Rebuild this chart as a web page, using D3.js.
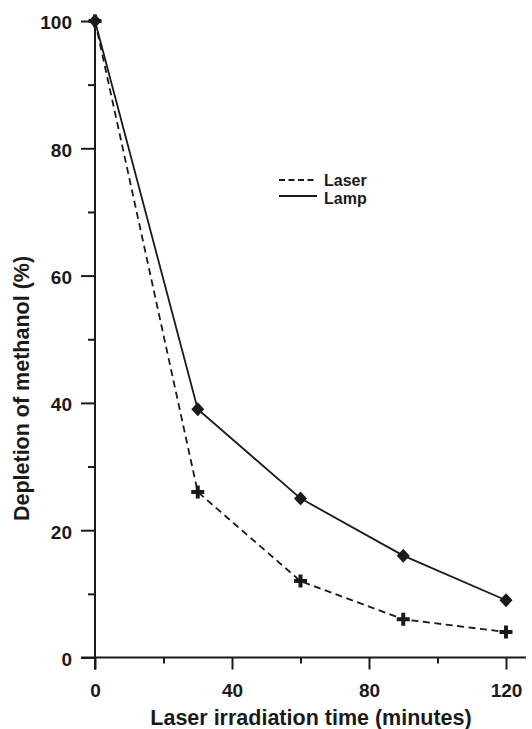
<!DOCTYPE html>
<html><head><meta charset="utf-8">
<script src="https://cdn.jsdelivr.net/npm/d3@7"></script>
<style>
html,body{margin:0;padding:0;background:#fff;}
svg{display:block;}
text{font-family:"Liberation Sans",Arial,Helvetica,sans-serif;font-weight:bold;fill:#1a1a1a;}
</style></head>
<body>
<script>
const times = [0, 30, 60, 90, 120];
const laser = [100, 26, 12, 6, 4];
const lamp = [100, 39, 25, 16, 9];
const xMajor = [0, 40, 80, 120];
const xMinor = [20, 60, 100];
const yMajor = [0, 20, 40, 60, 80, 100];
const yMinor = [10, 30, 50, 70, 90];
const seriesNames = ["Laser", "Lamp"];
const xTitle = "Laser irradiation time (minutes)";
const yTitle = "Depletion of methanol (%)";

const W = 532, H = 729;
const svg = d3.select("body").append("svg").attr("width", W).attr("height", H);
const x = d3.scaleLinear().domain([0, 120]).range([95, 506]);
const y = d3.scaleLinear().domain([0, 100]).range([657.5, 21]);
const ink = "#1a1a1a";

// Axes
const gx = svg.append("g").attr("transform", `translate(0,${y(0)})`);
gx.call(d3.axisBottom(x).tickValues(xMajor).tickSize(12).tickSizeOuter(0).tickFormat(d3.format("d")));
gx.append("g").call(d3.axisBottom(x).tickValues(xMinor).tickSize(6).tickSizeOuter(0).tickFormat(""));
gx.selectAll(".domain").remove();
gx.selectAll("text").attr("y", 39.5).attr("dy", null).style("font-size", "19px").attr("fill", ink);

const gy = svg.append("g").attr("transform", `translate(${x(0)},0)`);
gy.call(d3.axisLeft(y).tickValues(yMajor).tickSize(14).tickSizeOuter(0).tickFormat(d3.format("d")));
gy.append("g").call(d3.axisLeft(y).tickValues(yMinor).tickSize(7).tickSizeOuter(0).tickFormat(""));
gy.selectAll(".domain").remove();
gy.selectAll("text").attr("x", -23).attr("dy", "0.42em").style("font-size", "19px").attr("fill", ink);

svg.selectAll(".tick line").attr("stroke", ink).attr("stroke-width", 2);

// Axis lines (extended like reference)
svg.append("line").attr("x1", x(0) - 14).attr("x2", 526).attr("y1", y(0)).attr("y2", y(0))
  .attr("stroke", ink).attr("stroke-width", 2);
svg.append("line").attr("x1", x(0)).attr("x2", x(0)).attr("y1", y(100)).attr("y2", y(0) + 12)
  .attr("stroke", ink).attr("stroke-width", 2);

// Lines
const lineGen = d3.line().x((d, i) => x(times[i])).y(d => y(d));
svg.append("path").datum(laser).attr("d", lineGen).attr("fill", "none")
  .attr("stroke", ink).attr("stroke-width", 1.8).attr("stroke-dasharray", "7,4.5");
svg.append("path").datum(lamp).attr("d", lineGen).attr("fill", "none")
  .attr("stroke", ink).attr("stroke-width", 1.8);

// Markers
svg.selectAll(".plus").data(laser).enter().append("path")
  .attr("transform", (d, i) => `translate(${x(times[i])},${y(d)})`)
  .attr("d", "M-6.5,0H6.5M0,-6.5V6.5").attr("stroke", ink).attr("stroke-width", 4);
svg.selectAll(".dia").data(lamp).enter().append("path")
  .attr("transform", (d, i) => `translate(${x(times[i])},${y(d)})`)
  .attr("d", "M0,-7L6.5,0L0,7L-6.5,0Z").attr("fill", ink);

// Legend
const lg = svg.append("g");
lg.append("line").attr("x1", 279).attr("x2", 314).attr("y1", 180).attr("y2", 180)
  .attr("stroke", ink).attr("stroke-width", 2).attr("stroke-dasharray", "6,3.5");
lg.append("line").attr("x1", 279).attr("x2", 317).attr("y1", 196).attr("y2", 196)
  .attr("stroke", ink).attr("stroke-width", 2);
lg.append("text").attr("x", 324).attr("y", 185.5).style("font-size", "16px").text(seriesNames[0]);
lg.append("text").attr("x", 324).attr("y", 204).style("font-size", "16px").text(seriesNames[1]);

// Titles
svg.append("text").attr("x", 311).attr("y", 725).attr("text-anchor", "middle")
  .style("font-size", "21.5px").text(xTitle);
svg.append("text").attr("transform", `translate(29,388.5) rotate(-90)`).attr("text-anchor", "middle")
  .style("font-size", "21.5px").text(yTitle);
</script>
</body></html>
